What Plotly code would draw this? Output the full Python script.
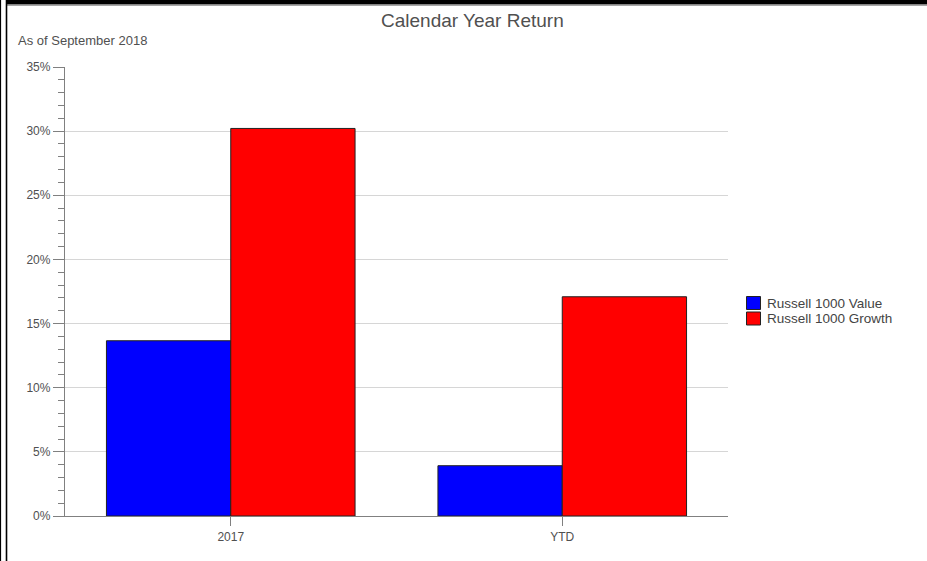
import plotly.graph_objects as go

# Calendar year returns (%) by index
periods = ["2017", "YTD"]
value_returns = [13.66, 3.92]
growth_returns = [30.21, 17.09]
series_names = ["Russell 1000 Value", "Russell 1000 Growth"]
series_colors = ["#0000ff", "#ff0000"]
y_ticks = [0, 5, 10, 15, 20, 25, 30, 35]
y_tick_labels = [f"{v}%" for v in y_ticks]

W, H = 927, 561
L, R, T, B = 65, 199, 67, 45
PW, PH = W - L - R, H - T - B


def px(x):
    return (x - L) / PW


def py(y):
    return (H - B - y) / PH


FONT = "Liberation Sans, Arial, sans-serif"
TXT = "#505050"
AXIS = "#808080"

fig = go.Figure()
for name, vals, col in zip(series_names, [value_returns, growth_returns], series_colors):
    fig.add_trace(go.Bar(
        x=periods, y=vals, name=name,
        marker=dict(color=col, line=dict(color="#222222", width=1)),
        showlegend=False,
    ))

shapes = [
    # frame: heavy top rule and double left rule
    dict(type="rect", xref="paper", yref="paper", x0=px(7), x1=px(W), y0=py(0), y1=py(4.5),
         fillcolor="#000000", line=dict(width=0), layer="above"),
    dict(type="line", xref="paper", yref="paper", x0=px(7), x1=px(W), y0=py(5.2), y1=py(5.2),
         line=dict(color="#888888", width=1.2), layer="above"),
    dict(type="line", xref="paper", yref="paper", x0=px(0.5), x1=px(0.5), y0=py(0), y1=py(H),
         line=dict(color="#000000", width=1.2), layer="above"),
    dict(type="line", xref="paper", yref="paper", x0=px(6.5), x1=px(6.5), y0=py(0), y1=py(H),
         line=dict(color="#000000", width=1.6), layer="above"),
]

annotations = [
    dict(text="Calendar Year Return", xref="paper", yref="paper", x=px(472), y=py(20),
         xanchor="center", yanchor="middle", showarrow=False,
         font=dict(family=FONT, size=19, color=TXT)),
    dict(text="As of September 2018", xref="paper", yref="paper", x=px(16), y=py(41),
         xanchor="left", yanchor="middle", showarrow=False,
         font=dict(family=FONT, size=13, color=TXT)),
]

# legend drawn as swatches with labels
legend_rows = [303, 318.5]
for name, col, yc in zip(series_names, series_colors, legend_rows):
    shapes.append(dict(type="rect", xref="paper", yref="paper",
                       x0=px(746.5), x1=px(760.5), y0=py(yc - 6.5), y1=py(yc + 6.5),
                       fillcolor=col, line=dict(color="#222222", width=1)))
    annotations.append(dict(text=name, xref="paper", yref="paper", x=px(765), y=py(yc),
                            xanchor="left", yanchor="middle", showarrow=False,
                            font=dict(family=FONT, size=13.5, color="#444444")))

fig.update_layout(
    width=W, height=H,
    margin=dict(l=L, r=R, t=T, b=B, pad=0),
    paper_bgcolor="white", plot_bgcolor="white",
    barmode="group", bargap=0.25, bargroupgap=0,
    shapes=shapes, annotations=annotations,
    font=dict(family=FONT, size=12, color=TXT),
    xaxis=dict(
        showline=True, linecolor=AXIS, linewidth=1.3,
        ticks="outside", ticklen=9, tickcolor=AXIS,
        showgrid=False, tickfont=dict(size=12, color=TXT),
    ),
    yaxis=dict(
        range=[0, 35], tickvals=y_ticks, ticktext=y_tick_labels,
        showline=True, linecolor=AXIS, linewidth=1.3,
        ticks="outside", ticklen=11, tickcolor=AXIS,
        showgrid=True, gridcolor="#d6d6d6", gridwidth=1, zeroline=False,
        minor=dict(dtick=1, ticks="outside", ticklen=6, tickcolor=AXIS, showgrid=False),
        tickfont=dict(size=12, color=TXT),
    ),
)

fig.write_html("out.html")
